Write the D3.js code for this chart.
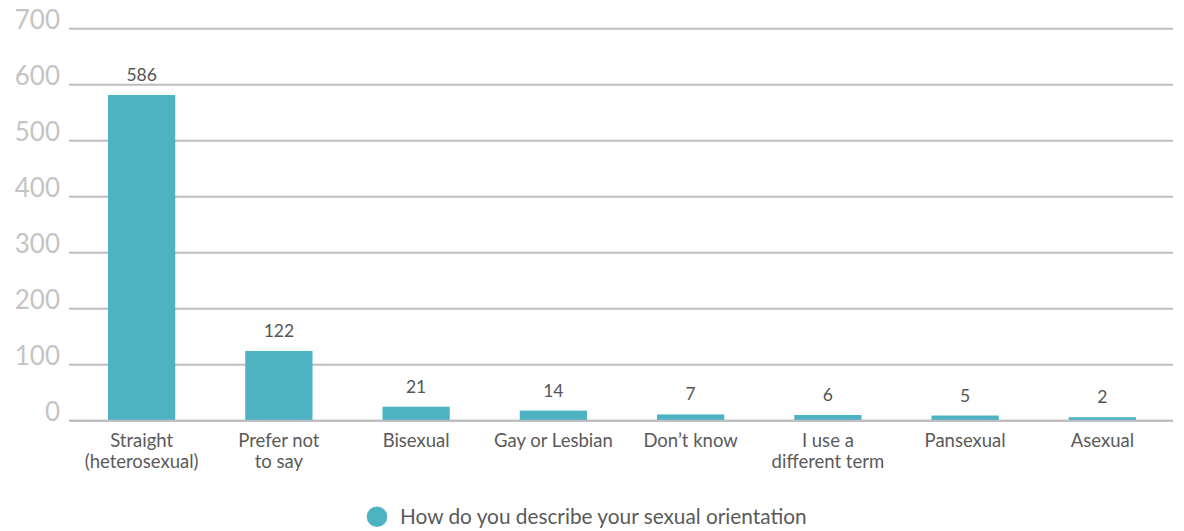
<!DOCTYPE html>
<html>
<head>
<meta charset="utf-8">
<script src="https://cdn.jsdelivr.net/npm/d3@7"></script>
<style>
  html, body { margin: 0; padding: 0; background: #fff; }
  svg { display: block; font-family: Lato, "Open Sans", sans-serif; }
</style>
</head>
<body>
<svg id="chart" width="1184" height="531"></svg>
<script>
// Survey responses: sexual orientation
const categories = [
  ["Straight", "(heterosexual)"],
  ["Prefer not", "to say"],
  ["Bisexual"],
  ["Gay or Lesbian"],
  ["Don\u2019t know"],
  ["I use a", "different term"],
  ["Pansexual"],
  ["Asexual"]
];
const values = [586, 122, 21, 14, 7, 6, 5, 2];
const yTicks = [0, 100, 200, 300, 400, 500, 600, 700];
const seriesName = "How do you describe your sexual orientation";

const barColor = "#4db3c3";
const svg = d3.select("#chart");

const gridLeft = 69, gridRight = 1173;
// axis scale for gridlines and tick labels
const y = d3.scaleLinear().domain([0, 700]).range([420.7, 28.7]);
// bar scale: bars rest slightly under the baseline stroke
const yBar = d3.scaleLinear().domain([0, 700]).range([418.3, 32.1]);
const x = d3.scaleBand()
  .domain(d3.range(categories.length))
  .range([73, 1171])
  .paddingInner(0.51)
  .paddingOuter(0.255);

// gridlines
svg.append("g").selectAll("line")
  .data(yTicks)
  .join("line")
  .attr("x1", gridLeft).attr("x2", gridRight)
  .attr("y1", d => y(d)).attr("y2", d => y(d))
  .attr("stroke", "#bdbdc1").attr("stroke-width", 2);

// y tick labels
svg.append("g").selectAll("text")
  .data(yTicks)
  .join("text")
  .attr("x", 60).attr("y", d => y(d) + 0.5)
  .attr("text-anchor", "end")
  .attr("font-size", 26).attr("font-weight", 400)
  .attr("fill", "#c4c4c4")
  .text(d => d);

// bars
svg.append("g").selectAll("rect")
  .data(values)
  .join("rect")
  .attr("x", (d, i) => x(i))
  .attr("width", x.bandwidth())
  .attr("y", d => yBar(d))
  .attr("height", d => y(0) - yBar(d))
  .attr("fill", barColor);

// baseline drawn over bars
svg.append("line")
  .attr("x1", gridLeft).attr("x2", gridRight)
  .attr("y1", y(0)).attr("y2", y(0))
  .attr("stroke", "#bdbdc1").attr("stroke-width", 2);

// value labels
svg.append("g").selectAll("text")
  .data(values)
  .join("text")
  .attr("x", (d, i) => x(i) + x.bandwidth() / 2)
  .attr("y", d => yBar(d) - 14)
  .attr("text-anchor", "middle")
  .attr("font-size", 17.5)
  .attr("fill", "#555")
  .text(d => d);

// category labels
const cat = svg.append("g").selectAll("text")
  .data(categories)
  .join("text")
  .attr("x", (d, i) => x(i) + x.bandwidth() / 2)
  .attr("y", 446.5)
  .attr("text-anchor", "middle")
  .attr("font-size", 18.5)
  .attr("fill", "#5a5a5a");
cat.selectAll("tspan")
  .data(d => d)
  .join("tspan")
  .attr("x", function () { return d3.select(this.parentNode).attr("x"); })
  .attr("dy", (d, i) => i === 0 ? 0 : 21)
  .text(d => d);

// legend
const legend = svg.append("g");
legend.append("circle")
  .attr("cx", 377).attr("cy", 516.7).attr("r", 10.3)
  .attr("fill", barColor);
legend.append("text")
  .attr("x", 400).attr("y", 523.5)
  .attr("font-size", 20.8)
  .attr("fill", "#5a5a5a")
  .text(seriesName);
</script>
</body>
</html>
